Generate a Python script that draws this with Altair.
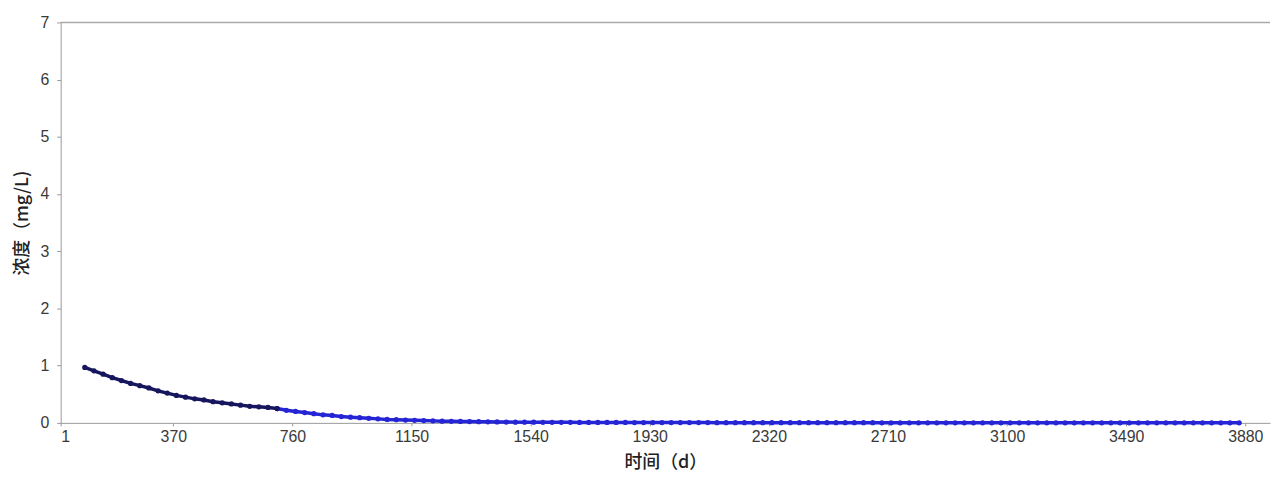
import altair as alt
import pandas as pd

# Early segment (dark markers)
days_a = [80, 110, 140, 170, 200, 230, 260, 290, 320, 350, 380, 410, 440, 470,
          500, 530, 560, 590, 620, 650, 680, 710]
conc_a = [0.97, 0.91, 0.85, 0.79, 0.74, 0.69, 0.65, 0.61, 0.56, 0.52, 0.48, 0.45,
          0.42, 0.40, 0.37, 0.35, 0.33, 0.31, 0.29, 0.28, 0.27, 0.25]

# Later segment (blue markers)
days_b = list(range(710, 3881, 30))
conc_b = [0.25, 0.22, 0.20, 0.18, 0.16, 0.14, 0.13, 0.11, 0.10, 0.09, 0.08, 0.07,
          0.06, 0.055, 0.05, 0.045, 0.04, 0.035, 0.03, 0.028, 0.025, 0.022, 0.02,
          0.018, 0.016, 0.015, 0.013, 0.012, 0.011, 0.010, 0.010, 0.009, 0.009,
          0.008, 0.008, 0.008, 0.007, 0.007, 0.007, 0.006, 0.006, 0.006, 0.006,
          0.005, 0.005, 0.005, 0.005, 0.005, 0.004, 0.004, 0.004, 0.004, 0.004,
          0.004, 0.004, 0.003, 0.003, 0.003, 0.003, 0.003, 0.003, 0.003, 0.003,
          0.003, 0.003, 0.003, 0.002, 0.002, 0.002, 0.002, 0.002, 0.002, 0.002,
          0.002, 0.002, 0.002, 0.002, 0.002, 0.002, 0.002, 0.002, 0.002, 0.002,
          0.002, 0.002, 0.002, 0.002, 0.002, 0.002, 0.002, 0.002, 0.002, 0.002,
          0.002, 0.002, 0.002, 0.002, 0.002, 0.002, 0.002, 0.002, 0.002, 0.002,
          0.002, 0.002, 0.002]
conc_b = conc_b[:len(days_b)]
days_b = days_b[:len(conc_b)]

x_ticks = [1, 370, 760, 1150, 1540, 1930, 2320, 2710, 3100, 3490, 3880]
y_ticks = [0, 1, 2, 3, 4, 5, 6, 7]

df_a = pd.DataFrame({"day": days_a, "conc": conc_a, "seg": "a"})
df_b = pd.DataFrame({"day": days_b, "conc": conc_b, "seg": "b"})

W, H = 1217, 403
font = "Liberation Sans"
cjk = "Noto Sans CJK SC"

xs = alt.Scale(domain=[1, 3961], nice=False, zero=False)
ys = alt.Scale(domain=[0, 7], nice=False)

xax = alt.Axis(values=x_ticks, format="d", title="时间（d）", grid=False, labelFont=font,
               labelFontSize=16, labelColor="#3a3a3a", tickColor="#999", tickSize=3,
               domainColor="#999", titleFont=cjk, titleFontSize=18,
               titleFontWeight=500, titleColor="#222", titleY=40,
               titleBaseline="middle", labelPadding=3)
yax = alt.Axis(values=y_ticks, format="d", title="浓度（mg/L)", grid=False, labelFont=font,
               labelFontSize=16, labelColor="#3a3a3a", tickColor="#999", tickSize=4,
               domainColor="#999", titleFont=cjk, titleFontSize=18,
               titleFontWeight=500, titleColor="#222", titleX=-38,
               titleBaseline="middle", labelPadding=8)

def seg(df, color):
    x = alt.X("day:Q", scale=xs, axis=xax)
    y = alt.Y("conc:Q", scale=ys, axis=yax)
    base = alt.Chart(df).encode(x=x, y=y)
    line = base.mark_line(color=color, strokeWidth=3.5)
    pts = base.mark_point(color=color, filled=True, size=28, shape="circle", opacity=1)
    return line + pts

top = alt.Chart(pd.DataFrame({"v": [7]})).mark_rule(color="#aaa", strokeWidth=1.5).encode(
    y=alt.Y("v:Q", scale=ys, axis=yax), x=alt.value(0), x2=alt.value(W))

chart = alt.layer(
    seg(df_b, "#2525d6"),
    seg(df_a, "#16165e"),
    top,
).properties(
    width=W, height=H, autosize="none", background="white",
    padding={"left": 53, "top": 13, "right": 4, "bottom": 56},
).configure_view(stroke=None)

chart.save("out.html", embed_options={"renderer": "svg", "actions": False})
